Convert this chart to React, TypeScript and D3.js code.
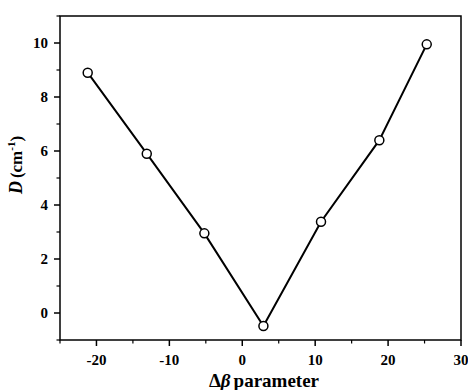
import React from "react";
import * as d3 from "d3";

const deltaBeta = [-21.2, -13.1, -5.2, 2.9, 10.8, 18.8, 25.3];
const dValues = [8.9, 5.9, 2.95, -0.48, 3.38, 6.4, 9.95];
const xTicks = [-20, -10, 0, 10, 20, 30];
const xMinor = [-25, -15, -5, 5, 15, 25];
const yTicks = [0, 2, 4, 6, 8, 10];
const yMinor = [-1, 1, 3, 5, 7, 9, 11];

export default function App() {
  const W = 468, H = 390;
  const m = { l: 60, r: 7, t: 16, b: 50 };
  const x = d3.scaleLinear().domain([-25, 30]).range([m.l, W - m.r]);
  const y = d3.scaleLinear().domain([-1, 11]).range([H - m.b, m.t]);
  const pts = deltaBeta.map((v, i) => [v, dValues[i]] as [number, number]);
  const line = d3.line<[number, number]>().x(d => x(d[0])).y(d => y(d[1]));
  const font = "'Liberation Serif', 'Times New Roman', 'DejaVu Serif', serif";
  const x0 = x(-25), x1 = x(30), y0 = y(-1), y1 = y(11);
  const ts = { fontFamily: font, fontWeight: 700 } as React.CSSProperties;
  return (
    <svg width={W} height={H} style={{ display: "block", position: "absolute", left: 0, top: 0, background: "#fff", fontFamily: font }}>
      <rect x={x0} y={y1} width={x1 - x0} height={y0 - y1} fill="none" stroke="#000" strokeWidth={1.5} />
      {xTicks.map(t => (
        <g key={"xt" + t}>
          <line x1={x(t)} x2={x(t)} y1={y0} y2={y0 + 6} stroke="#000" strokeWidth={1.5} />
          <text x={x(t)} y={y0 + 25} textAnchor="middle" style={{ ...ts, fontSize: 15 }}>{t}</text>
        </g>
      ))}
      {xMinor.map(t => (
        <line key={"xm" + t} x1={x(t)} x2={x(t)} y1={y0} y2={y0 + 3.5} stroke="#000" strokeWidth={1.2} />
      ))}
      {yTicks.map(t => (
        <g key={"yt" + t}>
          <line x1={x0 - 6} x2={x0} y1={y(t)} y2={y(t)} stroke="#000" strokeWidth={1.5} />
          <text x={x0 - 12} y={y(t) + 5} textAnchor="end" style={{ ...ts, fontSize: 15 }}>{t}</text>
        </g>
      ))}
      {yMinor.map(t => (
        <line key={"ym" + t} x1={x0 - 3.5} x2={x0} y1={y(t)} y2={y(t)} stroke="#000" strokeWidth={1.2} />
      ))}
      <path d={line(pts) || ""} fill="none" stroke="#000" strokeWidth={2} />
      {pts.map((p, i) => (
        <circle key={i} cx={x(p[0])} cy={y(p[1])} r={4.5} fill="#fff" stroke="#000" strokeWidth={1.5} />
      ))}
      <text x={264} y={H - 3} textAnchor="middle" style={{ ...ts, fontSize: 19 }}>
        <tspan>Δ</tspan><tspan fontStyle="italic">β</tspan><tspan dx={3}>parameter</tspan>
      </text>
      <text transform={`translate(22,165) rotate(-90)`} textAnchor="middle" style={{ ...ts, fontSize: 17 }}>
        <tspan fontStyle="italic" fontSize={18}>D</tspan><tspan dx={3}>(cm</tspan><tspan dy={-7} fontSize={11}>-1</tspan><tspan dy={7}>)</tspan>
      </text>
    </svg>
  );
}
